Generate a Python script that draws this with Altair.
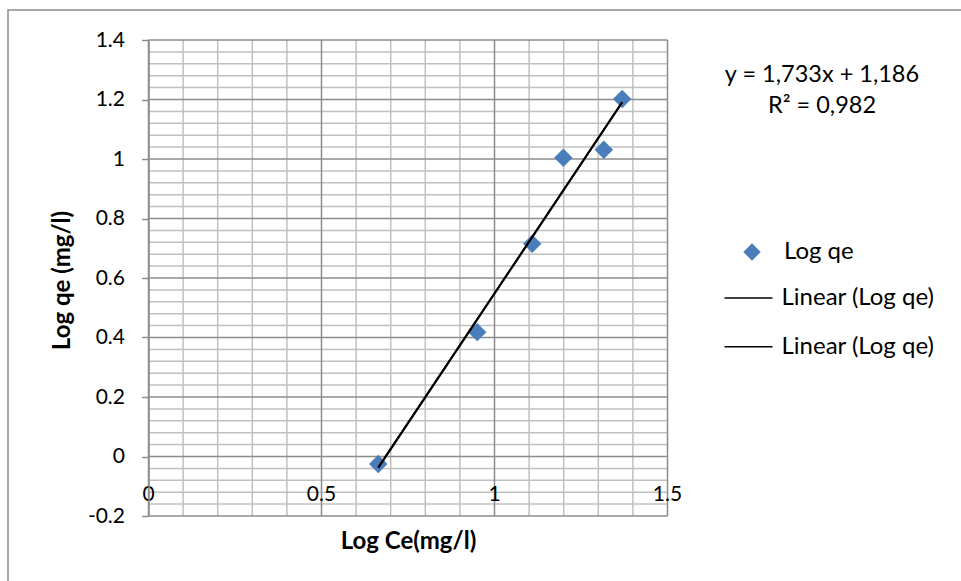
import altair as alt
import pandas as pd

# ---- data ----
log_ce = [0.664, 0.950, 1.109, 1.199, 1.316, 1.369]
log_qe = [-0.025, 0.418, 0.715, 1.004, 1.031, 1.202]
x_tick_values = [0, 0.5, 1, 1.5]
x_tick_labels = ["0", "0.5", "1", "1.5"]
y_tick_values = [-0.2, 0, 0.2, 0.4, 0.6, 0.8, 1, 1.2, 1.4]
x_grid_values = [round(0.1 * i, 1) for i in range(16)]
y_grid_values = [round(-0.2 + 0.04 * i, 2) for i in range(41)]
equation_text = ["y = 1,733x + 1,186"]
r2_text = ["R² = 0,982"]

FONT = "Lato"
FS_NUM = 21
FS_TXT = 24
BLUE = "#4a7ebb"
MAJOR = "#8c8c8c"
MINOR = "#c0c0c0"

points = pd.DataFrame({"x": log_ce, "y": log_qe, "series": ["Log qe"] * len(log_ce)})
xgrid = pd.DataFrame({"v": x_grid_values, "major": [i % 5 == 0 for i in range(len(x_grid_values))]})
ygrid = pd.DataFrame({"v": y_grid_values, "major": [i % 5 == 0 for i in range(len(y_grid_values))]})
xlab = pd.DataFrame({"v": x_tick_values, "label": x_tick_labels})
eq_df = pd.DataFrame({"t": equation_text})
r2_df = pd.DataFrame({"t": r2_text})

xs = alt.Scale(domain=[0, 1.5], nice=False, zero=False)
ys = alt.Scale(domain=[-0.2, 1.4], nice=False, zero=False)

xaxis = alt.Axis(title="Log Ce(mg/l)", labels=False, ticks=False, domain=False, grid=False,
                 titleFont=FONT, titleFontSize=FS_TXT, titleFontWeight="bold", titleColor="black",
                 titleY=25, titleBaseline="middle")
yaxis = alt.Axis(values=y_tick_values, grid=False, domain=True, domainColor=MAJOR, domainWidth=1.5,
                 tickColor=MAJOR, tickSize=7, tickWidth=1.5,
                 labelExpr="'' + datum.value", labelFont=FONT, labelFontSize=FS_NUM, labelColor="black",
                 labelPadding=17,
                 title="Log qe (mg/l)", titleFont=FONT, titleFontSize=FS_TXT, titleFontWeight="bold",
                 titleColor="black", titleX=-86, titleY=240, titleAngle=270, titleAlign="center",
                 titleBaseline="middle", zindex=1)

base_x = alt.X("v:Q", scale=xs, axis=xaxis)
base_y = alt.Y("v:Q", scale=ys, axis=yaxis)

minor_x = alt.Chart(xgrid).transform_filter("!datum.major").mark_rule(color=MINOR, strokeWidth=1.5).encode(x=base_x)
minor_y = alt.Chart(ygrid).transform_filter("!datum.major").mark_rule(color=MINOR, strokeWidth=1.5).encode(y=base_y)
major_x = alt.Chart(xgrid).transform_filter("datum.major").mark_rule(color=MAJOR, strokeWidth=1.5).encode(x=base_x)
major_y = alt.Chart(ygrid).transform_filter("datum.major").mark_rule(color=MAJOR, strokeWidth=1.5).encode(y=base_y)

xlabels = alt.Chart(xlab).mark_text(font=FONT, fontSize=FS_NUM, color="black", baseline="alphabetic", dy=44).encode(
    x=base_x, y=alt.datum(0, scale=ys), text="label:N")

pts = alt.Chart(points).mark_point(filled=True, size=340, color=BLUE, opacity=1).encode(
    x=alt.X("x:Q", scale=xs, axis=xaxis),
    y=alt.Y("y:Q", scale=ys, axis=yaxis),
    shape=alt.Shape("series:N", scale=alt.Scale(domain=["Log qe"], range=["diamond"]),
                    legend=alt.Legend(title=None, orient="none", legendX=591.5, legendY=200, padding=0,
                                      symbolSize=300, symbolFillColor=BLUE, symbolStrokeWidth=0,
                                      labelFont=FONT, labelFontSize=FS_TXT, labelColor="black",
                                      labelOffset=20)))

trend = alt.Chart(points).transform_calculate(a="datum.y", b="datum.y").transform_fold(
    ["a", "b"], as_=["trend", "yy"]).transform_regression("x", "yy", groupby=["trend"]).mark_line(
    strokeWidth=2).encode(
    x=alt.X("x:Q", scale=xs, axis=xaxis),
    y=alt.Y("yy:Q", scale=ys, axis=yaxis),
    stroke=alt.Stroke("trend:N", scale=alt.Scale(domain=["a", "b"], range=["black", "black"]),
                      legend=alt.Legend(title=None, orient="none", legendX=575, legendY=233, padding=0,
                                        symbolType="stroke", symbolSize=2304, symbolStrokeColor="black",
                                        symbolStrokeWidth=1.5, labelExpr="'Linear (Log qe)'",
                                        labelFont=FONT, labelFontSize=FS_TXT, labelColor="black",
                                        labelOffset=8, rowPadding=11.7, labelLimit=400)))

eq1 = alt.Chart(eq_df).mark_text(font=FONT, fontSize=23.5, color="black", align="center", baseline="middle").encode(
    x=alt.value(673.5), y=alt.value(35), text="t:N")
eq2 = alt.Chart(r2_df).mark_text(font=FONT, fontSize=23.5, color="black", align="center", baseline="middle").encode(
    x=alt.value(673.5), y=alt.value(66), text="t:N")

border = alt.Chart(eq_df).mark_rect(fillOpacity=0, stroke=MAJOR, strokeWidth=1.5).encode(
    x=alt.value(-140.5), x2=alt.value(820), y=alt.value(-30), y2=alt.value(550))

chart = alt.layer(border, minor_x, minor_y, major_x, major_y, pts, trend, xlabels, eq1, eq2).properties(
    width=519, height=476,
    padding={"left": 148.5, "top": 40, "right": 293.5, "bottom": 65},
    autosize=alt.AutoSizeParams(type="none"),
    background="white",
).configure_view(stroke="transparent")

chart.save("out.html", embed_options={"renderer": "svg", "actions": False})
